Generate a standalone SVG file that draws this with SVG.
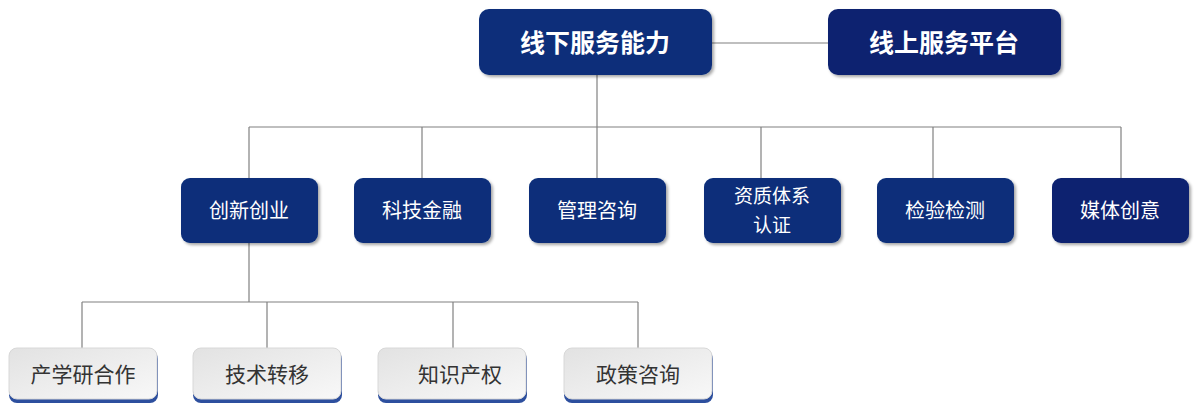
<svg xmlns="http://www.w3.org/2000/svg" width="1199" height="414" viewBox="0 0 1199 414">
<defs>
<linearGradient id="lg" x1="0" y1="0" x2="1" y2="1"><stop offset="0" stop-color="#e2e2e2"/><stop offset="1" stop-color="#f8f8f8"/></linearGradient>
<filter id="sh" x="-10%" y="-10%" width="125%" height="130%"><feDropShadow dx="2" dy="2" stdDeviation="1.5" flood-color="#000" flood-opacity="0.35"/></filter>
</defs>
<style>
.d{fill:#0a2f7a;filter:url(#sh)}
.d2{fill:#0b2170;filter:url(#sh)}
.t{font-family:"Noto Sans CJK SC",sans-serif;fill:#fff;text-anchor:middle}
.b{font-weight:bold;font-size:25px}
.m{font-size:20px}
.s{font-size:19px}
.g{fill:url(#lg);stroke:#d8d8d8;stroke-width:1}
.gs{fill:#2d4f9e}
.k{font-family:"Noto Sans CJK SC",sans-serif;fill:#333;text-anchor:middle;font-size:21px}
.c line{stroke:#808080;stroke-width:1.2}
</style>
<g class="c">
<line x1="712" y1="43" x2="828" y2="43"/>
<line x1="597" y1="75" x2="597" y2="178"/>
<line x1="249" y1="127" x2="1121" y2="127"/>
<line x1="249" y1="127" x2="249" y2="178"/>
<line x1="422" y1="127" x2="422" y2="178"/>
<line x1="761" y1="127" x2="761" y2="178"/>
<line x1="933" y1="127" x2="933" y2="178"/>
<line x1="1121" y1="127" x2="1121" y2="178"/>
<line x1="249" y1="243" x2="249" y2="302"/>
<line x1="82" y1="302" x2="638" y2="302"/>
<line x1="82" y1="302" x2="82" y2="350"/>
<line x1="267" y1="302" x2="267" y2="350"/>
<line x1="453" y1="302" x2="453" y2="350"/>
<line x1="638" y1="302" x2="638" y2="350"/>
</g>
<g id="n-offline"><rect class="d" x="479" y="9" width="233" height="66" rx="10"/><text class="t b" x="595" y="52">线下服务能力</text></g>
<g id="n-online"><rect class="d2" x="828" y="9" width="233" height="66" rx="10"/><text class="t b" x="944" y="52">线上服务平台</text></g>
<g id="n-cxcy"><rect class="d" x="181" y="178" width="137" height="65" rx="9"/><text class="t m" x="249" y="218">创新创业</text></g>
<g id="n-kjjr"><rect class="d" x="354" y="178" width="137" height="65" rx="9"/><text class="t m" x="422" y="218">科技金融</text></g>
<g id="n-glzx"><rect class="d" x="529" y="178" width="137" height="65" rx="9"/><text class="t m" x="597" y="218">管理咨询</text></g>
<g id="n-zztx"><rect class="d" x="704" y="178" width="137" height="65" rx="9"/><text class="t s" x="772" y="203">资质体系</text><text class="t s" x="772" y="232">认证</text></g>
<g id="n-jyjc"><rect class="d" x="877" y="178" width="137" height="65" rx="9"/><text class="t m" x="945" y="218">检验检测</text></g>
<g id="n-mtcy"><rect class="d2" x="1052" y="178" width="137" height="65" rx="9"/><text class="t m" x="1120" y="218">媒体创意</text></g>
<g id="n-cxy"><rect class="gs" x="9" y="351" width="149" height="52" rx="8"/><rect class="g" x="9" y="348" width="148" height="51" rx="8"/><text class="k" x="83" y="382">产学研合作</text></g>
<g id="n-jszy"><rect class="gs" x="193" y="351" width="149" height="52" rx="8"/><rect class="g" x="193" y="348" width="148" height="51" rx="8"/><text class="k" x="267" y="382">技术转移</text></g>
<g id="n-zscq"><rect class="gs" x="378" y="351" width="149" height="52" rx="8"/><rect class="g" x="378" y="348" width="148" height="51" rx="8"/><text class="k" x="460" y="382">知识产权</text></g>
<g id="n-zczx"><rect class="gs" x="564" y="351" width="149" height="52" rx="8"/><rect class="g" x="564" y="348" width="148" height="51" rx="8"/><text class="k" x="638" y="382">政策咨询</text></g>
</svg>
